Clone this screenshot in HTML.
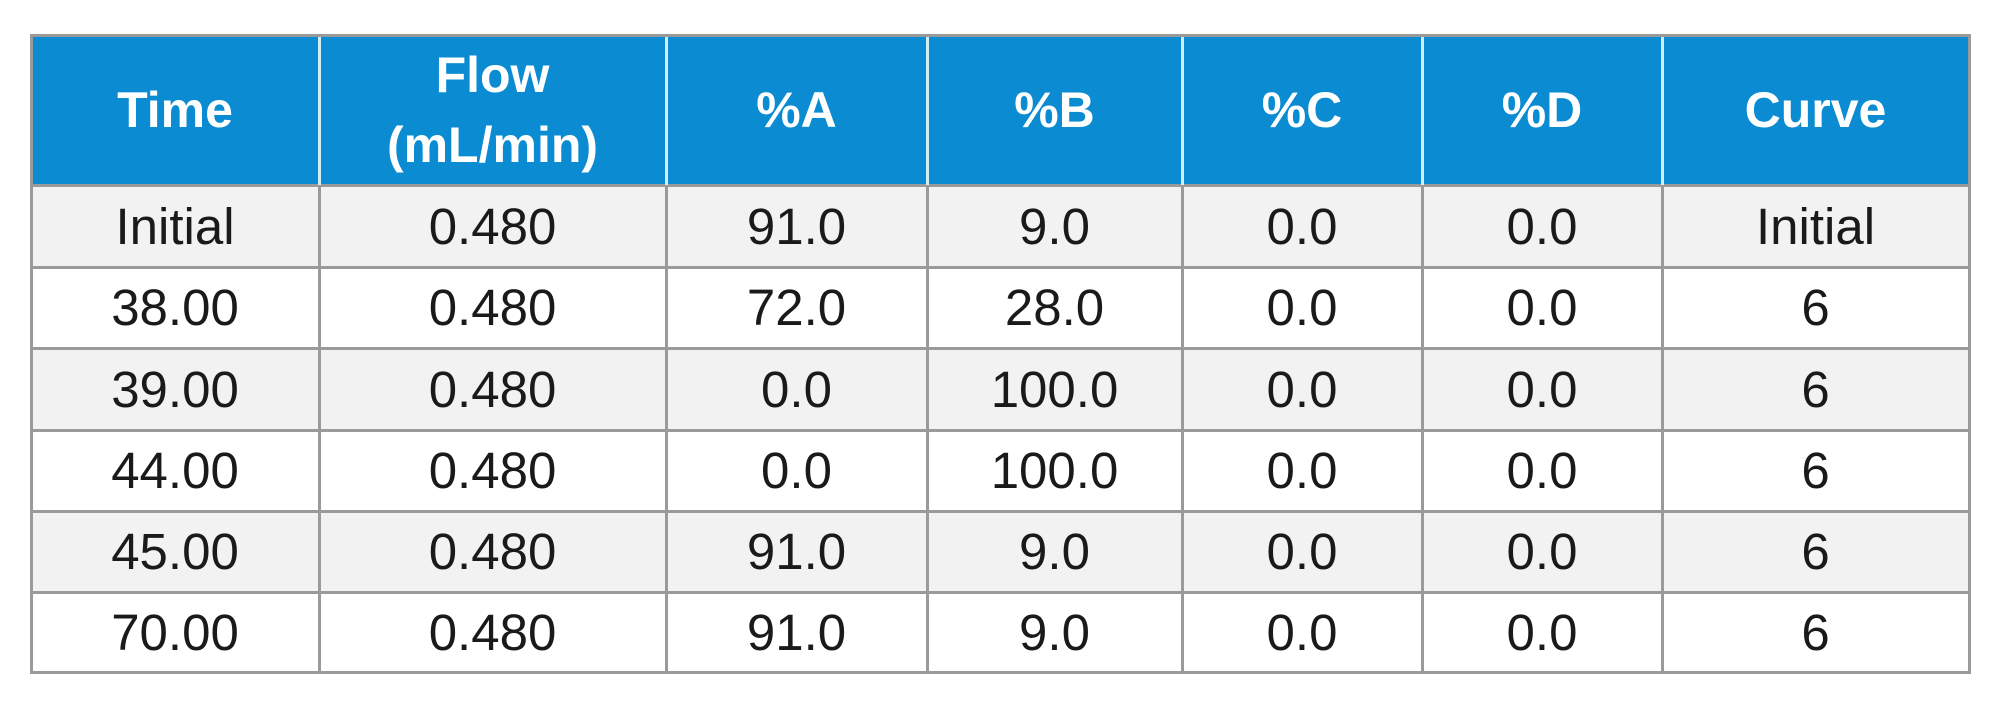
<!DOCTYPE html>
<html><head><meta charset="utf-8"><style>
body{margin:0;width:2000px;height:714px;background:#fff;position:relative;overflow:hidden;font-family:"Liberation Sans",sans-serif}
.c{position:absolute;display:flex;align-items:center;justify-content:center;box-sizing:border-box;text-align:center}
.h{background:#0a8bd2;color:#fff;font-weight:bold;font-size:50px;line-height:70px}
.b{color:#1a1a1a;font-size:51px}
.hl{position:absolute;background:#9a9a9a}
</style></head><body>
<div id="t"></div>
<script>
const headers=["Time","Flow<br>(mL/min)","%A","%B","%C","%D","Curve"];
const rows=[["Initial","0.480","91.0","9.0","0.0","0.0","Initial"],
["38.00","0.480","72.0","28.0","0.0","0.0","6"],
["39.00","0.480","0.0","100.0","0.0","0.0","6"],
["44.00","0.480","0.0","100.0","0.0","0.0","6"],
["45.00","0.480","91.0","9.0","0.0","0.0","6"],
["70.00","0.480","91.0","9.0","0.0","0.0","6"]];
const xs=[31,319,666,927,1182,1422,1662,1969];
const ys=[35,185,267,348,430,511,592,672];
const t=document.getElementById('t');
headers.forEach((h,i)=>{const d=document.createElement('div');d.className='c h';


d.style.cssText=`left:${xs[i]}px;top:${ys[0]}px;width:${xs[i+1]-xs[i]}px;height:${ys[1]-ys[0]}px`;d.innerHTML=h;t.appendChild(d);});
rows.forEach((r,j)=>r.forEach((v,i)=>{const d=document.createElement('div');d.className='c b';


d.style.cssText=`left:${xs[i]}px;top:${ys[j+1]}px;width:${xs[i+1]-xs[i]}px;height:${ys[j+2]-ys[j+1]}px;background:${j%2==0?'#f2f2f3':'#fff'}`;d.textContent=v;t.appendChild(d);}));
// grid lines
ys.forEach((y,j)=>{const l=document.createElement('div');l.className='hl';


l.style.cssText=`left:${xs[0]-1}px;top:${y-1}px;width:${xs[7]-xs[0]+3}px;height:3px`;t.appendChild(l);});
xs.forEach((x,i)=>{const l=document.createElement('div');l.className='hl';


const inner=i>0&&i<7;
l.style.cssText=`left:${x-1}px;top:${inner?ys[0]+2:ys[0]-1}px;width:3px;height:${inner?ys[1]-ys[0]-2:ys[1]-ys[0]+2}px;background:${inner?'#d6ecf8':'#9a9a9a'}`;t.appendChild(l);
const l2=document.createElement('div');l2.className='hl';


l2.style.cssText=`left:${x-1}px;top:${ys[1]}px;width:3px;height:${ys[7]-ys[1]+2}px`;t.appendChild(l2);});
</script>
</body></html>
